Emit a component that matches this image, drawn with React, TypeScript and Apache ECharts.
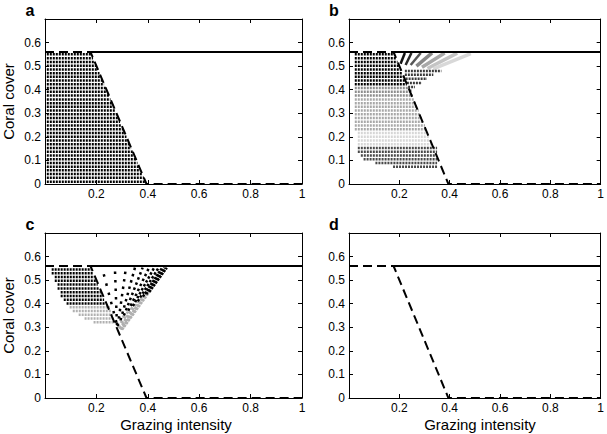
import React, { useEffect, useRef } from 'react';
import * as echarts from 'echarts';

const FONT = '"Liberation Sans", Arial, Helvetica, sans-serif';

const PANEL_LABELS = ['a', 'b', 'c', 'd'];
const X_AXIS_TITLE = 'Grazing intensity';
const Y_AXIS_TITLE = 'Coral cover';

// equilibrium lines (same in every panel)
const STABLE_X = [0.177, 1];
const STABLE_Y = [0.56, 0.56];
const UNSTABLE_X = [0, 0.177, 0.395, 1];
const UNSTABLE_Y = [0.56, 0.56, 0, 0];

// ---- panel a : rows of initial conditions (all black)
const A_ROW_Y = [0.55, 0.534, 0.518, 0.502, 0.486, 0.47, 0.455, 0.439, 0.423, 0.407, 0.391, 0.375, 0.359, 0.343, 0.328, 0.312, 0.296, 0.28, 0.264, 0.248, 0.232, 0.216, 0.2, 0.185, 0.169, 0.153, 0.137, 0.121, 0.105, 0.089, 0.073, 0.058, 0.042, 0.026, 0.01];
const A_ROW_X0 = 0.007;
const A_ROW_X1 = [0.181, 0.187, 0.193, 0.2, 0.206, 0.212, 0.218, 0.224, 0.23, 0.237, 0.243, 0.249, 0.255, 0.261, 0.267, 0.273, 0.28, 0.286, 0.292, 0.298, 0.305, 0.311, 0.317, 0.323, 0.329, 0.335, 0.342, 0.348, 0.354, 0.36, 0.366, 0.372, 0.378, 0.385, 0.391];

// ---- panel b
const B_SHADES = ['#000000', '#8c8c8c', '#a8a8a8', '#d6d6d6', '#484848'];
const B_ROW_Y = [0.55, 0.534, 0.518, 0.502, 0.486, 0.47, 0.455, 0.439, 0.423, 0.407, 0.391, 0.375, 0.359, 0.343, 0.328, 0.312, 0.296, 0.28, 0.264, 0.248, 0.232, 0.216, 0.2, 0.185, 0.169, 0.153, 0.137, 0.121, 0.105, 0.089, 0.073];
const B_ROW_X0 = [0.023, 0.023, 0.023, 0.023, 0.023, 0.023, 0.023, 0.023, 0.023, 0.023, 0.023, 0.023, 0.023, 0.023, 0.023, 0.023, 0.023, 0.023, 0.023, 0.023, 0.023, 0.035, 0.035, 0.035, 0.035, 0.035, 0.035, 0.047, 0.058, 0.105, 0.175];
const B_ROW_X1 = [0.181, 0.187, 0.193, 0.2, 0.206, 0.212, 0.218, 0.224, 0.23, 0.241, 0.247, 0.253, 0.259, 0.265, 0.271, 0.277, 0.284, 0.29, 0.296, 0.302, 0.309, 0.315, 0.321, 0.327, 0.333, 0.35, 0.35, 0.35, 0.35, 0.35, 0.35];
const B_ROW_SHADE = [0, 0, 0, 0, 0, 0, 0, 0, 0, 1, 1, 1, 2, 2, 2, 2, 2, 2, 2, 2, 2, 3, 3, 3, 3, 4, 4, 4, 4, 4, 4];
// horizontal trajectories just above the threshold
const B_BAR_Y = [0.479, 0.463, 0.446, 0.429, 0.412, 0.396];
const B_BAR_X0 = [0.222, 0.222, 0.225, 0.23, 0.235, 0.24];
const B_BAR_X1 = [0.367, 0.335, 0.31, 0.29, 0.262, 0.252];
// slanted trajectories converging to the upper equilibrium
const B_STREAK_X0 = [0.205, 0.225, 0.245, 0.268, 0.29, 0.312, 0.335];
const B_STREAK_Y0 = [0.51, 0.505, 0.505, 0.5, 0.495, 0.49, 0.488];
const B_STREAK_X1 = [0.222, 0.248, 0.285, 0.33, 0.38, 0.43, 0.484];
const B_STREAK_Y1 = [0.556, 0.556, 0.556, 0.556, 0.556, 0.555, 0.553];
const B_STREAK_SHADE = ['#111111', '#2a2a2a', '#555555', '#888888', '#a8a8a8', '#c4c4c4', '#d8d8d8'];

// ---- panel c
const C_SHADES = ['#000000', '#b0b0b0'];
const C_ROW_Y = [0.545, 0.529, 0.513, 0.497, 0.481, 0.465, 0.449, 0.433, 0.417, 0.401, 0.385, 0.369, 0.353, 0.337, 0.321];
const C_ROW_X0 = [0.026, 0.026, 0.038, 0.038, 0.049, 0.049, 0.061, 0.061, 0.073, 0.084, 0.096, 0.108, 0.131, 0.154, 0.189];
const C_ROW_X1 = [0.18, 0.186, 0.192, 0.198, 0.205, 0.211, 0.217, 0.223, 0.23, 0.236, 0.252, 0.258, 0.264, 0.27, 0.275];
const C_ROW_SHADE = [0, 0, 0, 0, 0, 0, 0, 0, 0, 0, 1, 1, 1, 1, 1];
// dotted trajectories fanning out from the apex
const C_RAY_X0 = [0.278, 0.28, 0.283, 0.286, 0.288, 0.29, 0.292, 0.294, 0.296, 0.298, 0.3];
const C_RAY_Y0 = [0.32, 0.31, 0.305, 0.3, 0.297, 0.295, 0.293, 0.291, 0.29, 0.29, 0.29];
const C_RAY_XM = [0.278, 0.28, 0.283, 0.294, 0.307, 0.324, 0.342, 0.361, 0.381, 0.394, 0.406];
const C_RAY_YM = [0.32, 0.31, 0.305, 0.33, 0.35, 0.37, 0.39, 0.41, 0.43, 0.44, 0.45];
const C_RAY_X1 = [0.222, 0.272, 0.315, 0.35, 0.38, 0.405, 0.425, 0.442, 0.456, 0.466, 0.474];
const C_RAY_Y1 = [0.553, 0.553, 0.553, 0.553, 0.553, 0.553, 0.553, 0.553, 0.553, 0.553, 0.553];
const C_RAY_GAP = [7, 6, 5, 4, 3, 3, 2, 2, 1, 1, 1];

const GRIDS = [
  { left: 45, top: 19 },
  { left: 349, top: 19 },
  { left: 45, top: 233 },
  { left: 349, top: 233 },
];
const GW = 257;
const GH = 165;

function seg(g: number, data: number[][], color: string, width: number, type: any, z = 2, clip = true) {
  return {
    type: 'line',
    xAxisIndex: 2 * g,
    yAxisIndex: 2 * g,
    data,
    symbol: 'none',
    showSymbol: false,
    silent: true,
    clip,
    z,
    lineStyle: { color, width, type, cap: 'butt' },
  };
}

function buildOption() {
  const xAxis: any[] = [];
  const yAxis: any[] = [];
  const axisLine = { show: true, onZero: false, lineStyle: { color: '#000', width: 1 } };
  const axisTick = { show: true, inside: true, length: 4, lineStyle: { color: '#000', width: 1 } };
  for (let g = 0; g < 4; g++) {
    const xb = { gridIndex: g, type: 'value', min: 0, max: 1, interval: 0.2, splitLine: { show: false }, axisLine, axisTick };
    xAxis.push({
      ...xb,
      position: 'bottom',
      axisLabel: {
        show: true, margin: 4, color: '#000', fontSize: 12, fontFamily: FONT,
        formatter: (v: number) => (v === 0 ? '' : Math.abs(v - 1) < 1e-9 ? '1' : v.toFixed(1)),
      },
    });
    xAxis.push({ ...xb, position: 'top', axisLabel: { show: false } });
    const yb = { gridIndex: g, type: 'value', min: 0, max: 0.7, interval: 0.1, splitLine: { show: false }, axisLine, axisTick };
    yAxis.push({
      ...yb,
      position: 'left',
      axisLabel: {
        show: true, margin: 4, color: '#000', fontSize: 12, fontFamily: FONT,
        formatter: (v: number) => (v > 0.65 ? '' : v === 0 ? '0' : v.toFixed(1)),
      },
    });
    yAxis.push({ ...yb, position: 'right', axisLabel: { show: false } });
  }

  const series: any[] = [];
  const DOT: any = [2, 1];
  const DW = 2.5;

  // panel a
  A_ROW_Y.forEach((y, i) => series.push(seg(0, [[A_ROW_X0, y], [A_ROW_X1[i], y]], '#000000', DW, DOT)));

  // panel b
  B_ROW_Y.forEach((y, i) => series.push(seg(1, [[B_ROW_X0[i], y], [B_ROW_X1[i], y]], B_SHADES[B_ROW_SHADE[i]], DW, DOT)));
  B_STREAK_X0.forEach((x0, i) =>
    series.push(seg(1, [[x0, B_STREAK_Y0[i]], [B_STREAK_X1[i], B_STREAK_Y1[i]]], B_STREAK_SHADE[i], i < 3 ? 2.5 : 3.5, 'solid', 3))
  );
  B_BAR_Y.forEach((y, i) => series.push(seg(1, [[B_BAR_X0[i], y], [B_BAR_X1[i], y]], '#3a3a3a', DW, DOT, 3)));

  // panel c
  C_ROW_Y.forEach((y, i) => series.push(seg(2, [[C_ROW_X0[i], y], [C_ROW_X1[i], y]], C_SHADES[C_ROW_SHADE[i]], DW, DOT)));
  C_RAY_X0.forEach((x0, i) => {
    const y0 = C_RAY_Y0[i];
    const xm = C_RAY_XM[i];
    const ym = C_RAY_YM[i];
    const dash: any = [2.5, C_RAY_GAP[i]];
    if (xm !== x0 || ym !== y0) series.push(seg(2, [[x0, y0], [xm, ym]], '#b0b0b0', DW, dash, 3));
    series.push(seg(2, [[xm, ym], [C_RAY_X1[i], C_RAY_Y1[i]]], '#000000', DW, dash, 4));
  });

  // equilibrium lines in all panels
  for (let g = 0; g < 4; g++) {
    series.push(seg(g, STABLE_X.map((x, i) => [x, STABLE_Y[i]]), '#000', 2, 'solid', 10, false));
    series.push(seg(g, UNSTABLE_X.map((x, i) => [x, UNSTABLE_Y[i]]), '#000', 2, [9, 5], 10, false));
  }

  const graphic: any[] = [];
  GRIDS.forEach((gr, g) => {
    graphic.push({
      type: 'text', x: gr.left - 15, y: gr.top - 9,
      style: { text: PANEL_LABELS[g], font: `bold 16px ${FONT}`, fill: '#000', textAlign: 'center', textVerticalAlign: 'middle' },
    });
  });
  [0, 2].forEach((g) => {
    graphic.push({
      type: 'text', x: 8, y: GRIDS[g].top + GH / 2, rotation: Math.PI / 2,
      style: { text: Y_AXIS_TITLE, font: `15px ${FONT}`, fill: '#000', textAlign: 'center', textVerticalAlign: 'middle' },
    });
  });
  [2, 3].forEach((g) => {
    graphic.push({
      type: 'text', x: GRIDS[g].left + 131, y: 424,
      style: { text: X_AXIS_TITLE, font: `15px ${FONT}`, fill: '#000', textAlign: 'center', textVerticalAlign: 'middle' },
    });
  });

  return {
    animation: false,
    backgroundColor: '#fff',
    grid: GRIDS.map((gr) => ({ left: gr.left, top: gr.top, width: GW, height: GH, containLabel: false })),
    xAxis,
    yAxis,
    series,
    graphic,
  };
}

export default function App() {
  const ref = useRef<HTMLDivElement>(null);
  useEffect(() => {
    const chart = echarts.init(ref.current as HTMLDivElement, null, { renderer: 'svg' });
    chart.setOption(buildOption() as any);
    return () => chart.dispose();
  }, []);
  return <div ref={ref} style={{ position: 'fixed', left: 0, top: 0, width: 607, height: 434, background: '#fff' }} />;
}
